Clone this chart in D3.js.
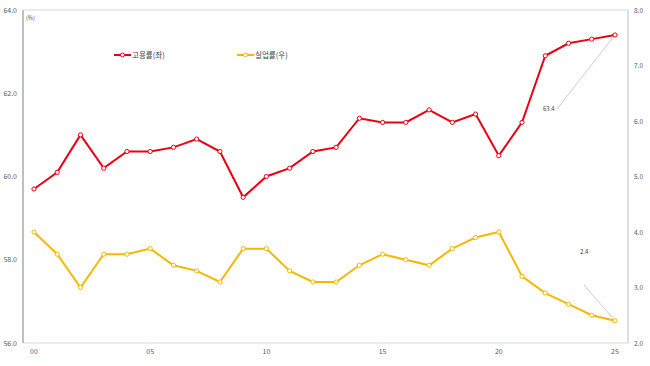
<!DOCTYPE html>
<html><head><meta charset="utf-8">
<script src="https://cdn.jsdelivr.net/npm/d3@7"></script>
<style>body{margin:0;background:#fff;}svg{display:block;font-family:"Noto Sans CJK KR","Noto Sans",sans-serif;}</style>
</head><body><svg id="c" width="650" height="366"></svg>
<script>
const years = d3.range(2000, 2026);
const xTickLabels = ["00","05","10","15","20","25"];
const employment = [59.7,60.1,61.0,60.2,60.6,60.6,60.7,60.9,60.6,59.5,60.0,60.2,60.6,60.7,61.4,61.3,61.3,61.6,61.3,61.5,60.5,61.3,62.9,63.2,63.3,63.4];
const unemployment = [4.0,3.6,3.0,3.6,3.6,3.7,3.4,3.3,3.1,3.7,3.7,3.3,3.1,3.1,3.4,3.6,3.5,3.4,3.7,3.9,4.0,3.2,2.9,2.7,2.5,2.4];
const leftTicks = [56,58,60,62,64];
const rightTicks = [2,3,4,5,6,7,8];
const seriesNames = ["고용률(좌)","실업률(우)"];
const colors = ["#E60012","#F5B800"];

const svg = d3.select("#c");
const L = 23, R = 628, T = 10, B = 343;
const x = d3.scaleLinear().domain([2000,2025]).range([34,615]);
const yL = d3.scaleLinear().domain([56,64]).range([B,T]);
const yR = d3.scaleLinear().domain([2,8]).range([B,T]);

// frame
svg.append("line").attr("x1",L).attr("x2",R).attr("y1",T).attr("y2",T).attr("stroke","#d9d9d9").attr("stroke-width",1);
svg.append("line").attr("x1",R).attr("x2",R).attr("y1",T).attr("y2",B).attr("stroke","#bfbfbf").attr("stroke-width",1);
svg.append("line").attr("x1",L).attr("x2",R).attr("y1",B).attr("y2",B).attr("stroke","#d9d9d9").attr("stroke-width",1);
svg.append("line").attr("x1",L).attr("x2",L).attr("y1",T).attr("y2",B).attr("stroke","#bfbfbf").attr("stroke-width",2);

// left ticks
svg.append("g").selectAll("text").data(leftTicks).join("text")
  .attr("x",17).attr("y",d=>yL(d)+2.5).attr("text-anchor","end")
  .attr("font-size",7).attr("fill","#595959").text(d=>d.toFixed(1));
// right ticks
svg.append("g").selectAll("text").data(rightTicks).join("text")
  .attr("x",634).attr("y",d=>yR(d)+2.5).attr("text-anchor","start")
  .attr("font-size",6.5).attr("fill","#595959").text(d=>d.toFixed(1));
// x ticks
svg.append("g").selectAll("text").data(xTickLabels).join("text")
  .attr("x",d=>x(2000+ +d)).attr("y",354).attr("text-anchor","middle")
  .attr("font-size",7).attr("fill","#595959").text(d=>d);

svg.append("text").attr("x",26).attr("y",20).attr("font-size",5.5).attr("fill","#404040").text("(%)");

// annotation leader lines
svg.append("line").attr("x1",557).attr("y1",109).attr("x2",x(2025)).attr("y2",yL(employment[25])).attr("stroke","#bfbfbf").attr("stroke-width",0.8);
svg.append("text").attr("x",543).attr("y",111).attr("font-size",6).attr("fill","#404040").text(employment[25].toFixed(1));
svg.append("line").attr("x1",584).attr("y1",285).attr("x2",x(2025)).attr("y2",yR(unemployment[25])).attr("stroke","#bfbfbf").attr("stroke-width",0.8);
svg.append("text").attr("x",580).attr("y",254).attr("font-size",6).attr("fill","#404040").text(unemployment[25].toFixed(1));

function drawSeries(data, y, color){
  const line = d3.line().x((d,i)=>x(years[i])).y(d=>y(d));
  svg.append("path").datum(data).attr("d",line).attr("fill","none").attr("stroke",color).attr("stroke-width",2);
  svg.append("g").selectAll("circle").data(data).join("circle")
    .attr("cx",(d,i)=>x(years[i])).attr("cy",d=>y(d)).attr("r",2.1)
    .attr("fill","#fff").attr("stroke",color).attr("stroke-width",1);
}
drawSeries(employment, yL, colors[0]);
drawSeries(unemployment, yR, colors[1]);

// legend
const legX = [114, 237];
seriesNames.forEach((n,i)=>{
  const g = svg.append("g");
  g.append("line").attr("x1",legX[i]).attr("x2",legX[i]+17).attr("y1",55).attr("y2",55).attr("stroke",colors[i]).attr("stroke-width",2);
  g.append("circle").attr("cx",legX[i]+8.5).attr("cy",55).attr("r",2).attr("fill","#fff").attr("stroke",colors[i]).attr("stroke-width",1);
  g.append("text").attr("x",legX[i]+18).attr("y",58).attr("font-size",7.5).attr("fill","#404040").text(n);
});
</script></body></html>
